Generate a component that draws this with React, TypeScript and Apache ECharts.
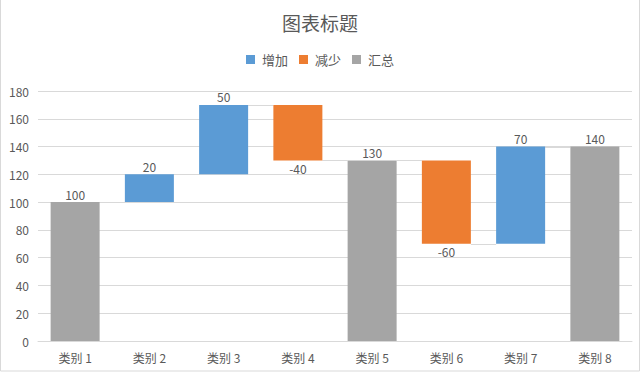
import React, { useEffect, useRef } from "react";
import * as echarts from "echarts";

const categories = ["类别 1", "类别 2", "类别 3", "类别 4", "类别 5", "类别 6", "类别 7", "类别 8"];
const placeholder = [0, 100, 120, 130, 0, 70, 70, 0];
const increase: (number | string)[] = ["-", 20, 50, "-", "-", "-", 70, "-"];
const decrease: (number | string)[] = ["-", "-", "-", 40, "-", 60, "-", "-"];
const total: (number | string)[] = [100, "-", "-", "-", 130, "-", "-", 140];
const connectorLevels = [100, 120, 170, 130, 130, 70, 140];
const yTicks = [0, 20, 40, 60, 80, 100, 120, 140, 160, 180];

const TEXT = "#595959";
const FONT = "'Microsoft YaHei', 'Noto Sans CJK SC', sans-serif";

export default function App() {
  const ref = useRef<HTMLDivElement>(null);
  useEffect(() => {
    document.body.style.margin = "0";
    const chart = echarts.init(ref.current!, null, { renderer: "svg" });
    const gap = 0.34;
    chart.setOption({
      animation: false,
      textStyle: { fontFamily: FONT },
      title: {
        text: "图表标题",
        left: "center",
        top: 8,
        textStyle: { fontSize: 19, fontWeight: "normal", color: TEXT, fontFamily: FONT },
      },
      legend: {
        data: ["增加", "减少", "汇总"],
        top: 48,
        left: "center",
        icon: "rect",
        itemWidth: 9,
        itemHeight: 9,
        itemGap: 11,
        textStyle: { fontSize: 13, color: TEXT, fontFamily: FONT, padding: [0, 0, 0, 2] },
      },
      grid: { left: 38, right: 8, top: 91, bottom: 32, containLabel: false },
      xAxis: {
        type: "category",
        data: categories,
        axisLine: { lineStyle: { color: "#d9d9d9" } },
        axisTick: { show: false },
        axisLabel: { color: TEXT, fontSize: 12, margin: 10, fontFamily: FONT },
      },
      yAxis: {
        type: "value",
        min: yTicks[0],
        max: yTicks[yTicks.length - 1],
        interval: 20,
        axisLine: { show: false },
        axisTick: { show: false },
        axisLabel: { color: TEXT, fontSize: 12, margin: 9, fontFamily: FONT },
        splitLine: { lineStyle: { color: "#d9d9d9" } },
      },
      graphic: [
        {
          type: "rect",
          shape: { x: 0.5, y: -2, width: 639, height: 373 },
          style: { fill: "none", stroke: "#d9d9d9", lineWidth: 1 },
          silent: true,
        },
      ],
      series: [
        {
          name: "placeholder",
          type: "bar",
          stack: "w",
          data: placeholder,
          itemStyle: { color: "transparent" },
          barCategoryGap: `${gap * 100}%`,
          silent: true,
        },
        {
          name: "增加",
          type: "bar",
          stack: "w",
          data: increase,
          itemStyle: { color: "#5b9bd5" },
          label: { show: true, position: "top", distance: 2, color: TEXT, fontSize: 12 },
        },
        {
          name: "减少",
          type: "bar",
          stack: "w",
          data: decrease,
          itemStyle: { color: "#ed7d31" },
          label: {
            show: true,
            position: "bottom",
            distance: 2,
            color: TEXT,
            fontSize: 12,
            formatter: (p: any) => "-" + p.value,
          },
        },
        {
          name: "汇总",
          type: "bar",
          stack: "w",
          data: total,
          itemStyle: { color: "#a5a5a5" },
          label: { show: true, position: "top", distance: 2, color: TEXT, fontSize: 12 },
        },
        {
          name: "connector",
          type: "custom",
          data: connectorLevels.map((v, i) => [i, v]),
          z: 1,
          silent: true,
          renderItem: (params: any, api: any) => {
            const i = api.value(0);
            const v = api.value(1);
            const a = api.coord([i, v]);
            const b = api.coord([i + 1, v]);
            const band = api.size([1, 0])[0];
            const half = (band * (1 - gap)) / 2;
            const y = Math.round(a[1]) + 0.5;
            return {
              type: "line",
              shape: { x1: a[0] + half, y1: y, x2: b[0] - half, y2: y },
              style: { stroke: "#d9d9d9", lineWidth: 1 },
            };
          },
        },
      ],
    });
    return () => chart.dispose();
  }, []);
  return <div ref={ref} style={{ position: "absolute", left: 0, top: 0, width: 640, height: 373 }} />;
}
